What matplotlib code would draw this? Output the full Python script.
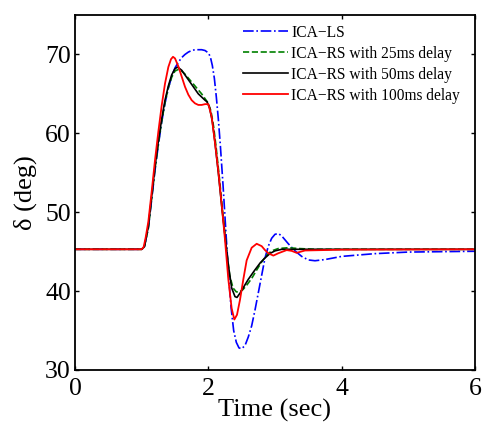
import matplotlib
matplotlib.use("Agg")
import matplotlib.pyplot as plt

plt.rcParams['font.family'] = ['Liberation Serif', 'DejaVu Serif']
plt.rcParams['mathtext.fontset'] = 'stix'

# ICA-LS (blue dash-dot)
t_ls = [0, 1.0, 1.04, 1.1, 1.15, 1.2, 1.25, 1.3, 1.35, 1.4, 1.45, 1.5, 1.55, 1.6, 1.65, 1.7,
        1.75, 1.8, 1.85, 1.9, 1.95, 2.0, 2.03, 2.06, 2.09, 2.12, 2.15, 2.18, 2.22, 2.26, 2.3,
        2.34, 2.38, 2.42, 2.46, 2.5, 2.55, 2.6, 2.65, 2.7, 2.75, 2.8, 2.85, 2.9, 2.95, 3.0,
        3.05, 3.1, 3.15, 3.2, 3.3, 3.4, 3.5, 3.6, 3.75, 4.0, 4.5, 5.0, 5.5, 6.0]
d_ls = [45.3, 45.3, 45.6, 48.0, 51.6, 55.3, 58.5, 61.4, 63.8, 65.7, 67.2, 68.3, 69.0, 69.6, 70.0, 70.3,
        70.5, 70.6, 70.6, 70.6, 70.5, 70.2, 69.7, 68.6, 67.0, 64.6, 61.8, 58.5, 53.5, 48.0, 42.5,
        38.0, 35.0, 33.5, 32.8, 32.7, 33.1, 34.2, 35.6, 37.6, 39.8, 42.0, 44.2, 45.7, 46.7, 47.2,
        47.3, 47.0, 46.5, 46.0, 45.1, 44.4, 43.95, 43.85, 44.0, 44.4, 44.75, 44.95, 45.0, 45.05]

# ICA-RS with 25ms delay (green dashed)
t_rs25 = [0, 1.0, 1.04, 1.1, 1.15, 1.2, 1.25, 1.3, 1.35, 1.4, 1.45, 1.5, 1.55, 1.6, 1.65, 1.7,
          1.75, 1.8, 1.85, 1.9, 1.95, 2.0, 2.04, 2.08, 2.12, 2.17, 2.22, 2.27, 2.32, 2.37, 2.42,
          2.47, 2.52, 2.58, 2.65, 2.72, 2.8, 2.88, 2.95, 3.05, 3.2, 3.35, 3.6, 6.0]
d_rs25 = [45.3, 45.3, 45.6, 48.0, 51.8, 55.5, 58.7, 61.5, 63.9, 65.8, 67.1, 67.9, 68.1, 67.9, 67.5, 67.0,
          66.5, 66.0, 65.5, 65.0, 64.4, 63.8, 62.8, 60.8, 58.0, 54.0, 49.6, 45.5, 42.0, 40.4, 39.9,
          39.9, 40.2, 40.8, 41.6, 42.6, 43.7, 44.6, 45.1, 45.4, 45.5, 45.4, 45.3, 45.3]

# ICA-RS with 50ms delay (black solid)
t_rs50 = [0, 1.0, 1.04, 1.1, 1.15, 1.2, 1.25, 1.3, 1.35, 1.4, 1.45, 1.5, 1.54, 1.6, 1.65, 1.7,
          1.75, 1.8, 1.85, 1.9, 1.95, 1.98, 2.02, 2.06, 2.1, 2.15, 2.2, 2.25, 2.3, 2.35, 2.4,
          2.43, 2.48, 2.55, 2.6, 2.7, 2.78, 2.85, 2.93, 3.0, 3.1, 3.3, 6.0]
d_rs50 = [45.3, 45.3, 45.6, 48.2, 52.0, 55.8, 59.0, 61.8, 64.2, 66.0, 67.4, 68.2, 68.4, 68.0, 67.4, 66.8,
          66.2, 65.6, 65.0, 64.6, 64.2, 64.0, 63.2, 61.5, 58.8, 55.0, 50.8, 47.0, 43.3, 40.4, 39.3,
          39.2, 39.8, 40.8, 41.5, 42.7, 43.6, 44.2, 44.8, 45.1, 45.3, 45.3, 45.3]

# ICA-RS with 100ms delay (red solid)
t_rs100 = [0, 1.0, 1.03, 1.06, 1.1, 1.15, 1.2, 1.25, 1.3, 1.35, 1.4, 1.44, 1.47, 1.5, 1.55, 1.6,
           1.65, 1.7, 1.75, 1.8, 1.85, 1.9, 1.95, 2.0, 2.05, 2.1, 2.15, 2.2, 2.25, 2.3, 2.35,
           2.39, 2.43, 2.475, 2.525, 2.575, 2.65, 2.725, 2.8, 2.85, 2.9, 2.975, 3.05, 3.175,
           3.25, 3.325, 3.45, 4.0, 6.0]
d_rs100 = [45.3, 45.3, 45.6, 46.8, 48.8, 52.6, 56.6, 60.2, 63.5, 66.3, 68.4, 69.4, 69.7, 69.5, 68.5, 67.2,
           65.9, 64.9, 64.2, 63.8, 63.6, 63.6, 63.7, 63.7, 62.1, 58.8, 55.2, 51.0, 46.5, 41.5, 37.8,
           36.4, 37.0, 38.9, 41.5, 43.9, 45.5, 46.0, 45.7, 45.2, 44.8, 44.5, 44.8, 45.2,
           45.1, 44.85, 45.15, 45.25, 45.3]

labels = ["ICA\u2212LS", "ICA\u2212RS with 25ms delay",
          "ICA\u2212RS with 50ms delay", "ICA\u2212RS with 100ms delay"]
xticks = [0, 2, 4, 6]
yticks = [30, 40, 50, 60, 70]

fig = plt.figure(figsize=(4.82, 4.24), dpi=100)
ax = fig.add_axes([75/482, 1 - 370/424, 400/482, 355/424])

ax.plot(t_ls, d_ls, color=(0, 0, 1), linestyle='-.', linewidth=1.2, label=labels[0])
ax.plot(t_rs25, d_rs25, color=(0, 0.5, 0), linestyle='--', linewidth=1.2, label=labels[1])
ax.plot(t_rs50, d_rs50, color='black', linestyle='-', linewidth=1.2, label=labels[2])
ax.plot(t_rs100, d_rs100, color='red', linestyle='-', linewidth=1.3, label=labels[3])

ax.set_xlim(0, 6)
ax.set_ylim(30, 75)
ax.set_xticks(xticks)
ax.set_yticks(yticks)
ax.tick_params(direction='in', length=3, width=1.0, top=True, right=True,
               labelsize=18.5, pad=3)
ax.tick_params(axis='x', pad=6)
for s in ax.spines.values():
    s.set_linewidth(1.3)

ax.set_xlabel("Time (sec)", fontsize=19, labelpad=-1)
ax.set_ylabel("\u03b4 (deg)", fontsize=19, labelpad=6)

ax.legend(loc='upper left', bbox_to_anchor=(0.405, 0.99), frameon=False,
          fontsize=11.2, handlelength=2.85, handletextpad=0.25, labelspacing=0.32,
          borderaxespad=0)

fig.savefig("out.png", dpi=100)
